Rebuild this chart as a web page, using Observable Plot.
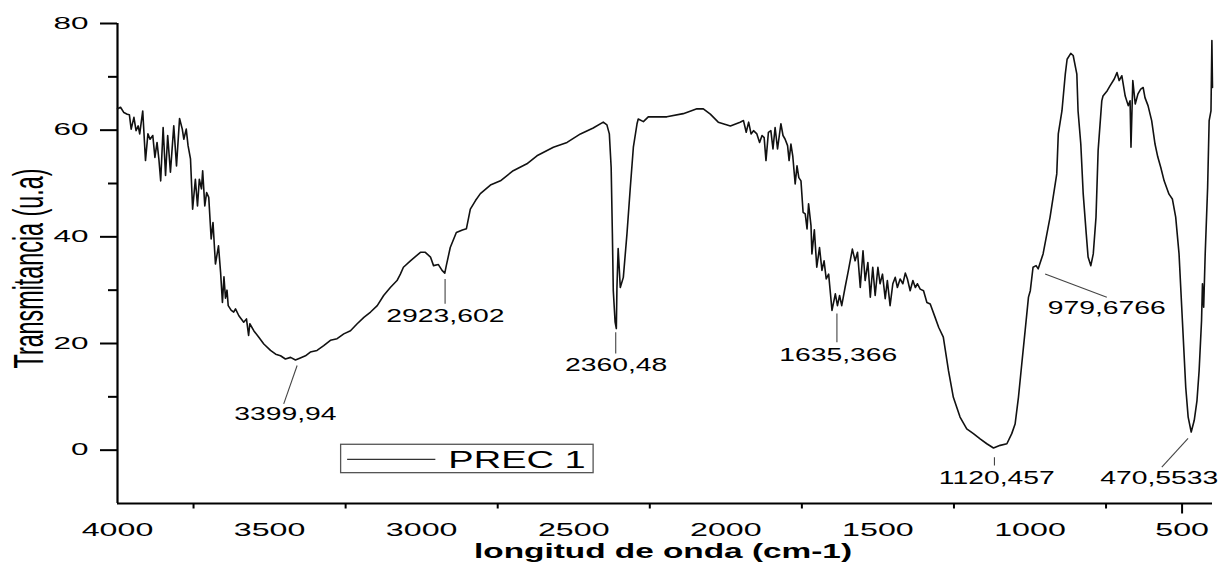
<!DOCTYPE html>
<html>
<head>
<meta charset="utf-8">
<script src="https://cdn.jsdelivr.net/npm/d3@7"></script>
<script src="https://cdn.jsdelivr.net/npm/@observablehq/plot@0.6"></script>
<style>
  html, body { margin: 0; padding: 0; background: #fff; }
</style>
</head>
<body>
<script>
// Wavenumber (cm-1) and transmittance (u.a)
const wavenumber = [
  4000,3990,3979,3968,3961,3955,3946,3939,3932,3927,3917,3908,3900,3893,3884,3877,3870,3864,3858,3850,
  3842,3835,3826,3815,3806,3796,3787,3782,3774,3768,3760,3753,3744,3737,3731,3724,3720,3713,3707,3700,
  3692,3686,3678,3668,3661,3655,3650,3645,3640,3636,3626,3618,3612,3601,3585,3576,3569,3565,3552,3536,
  3519,3497,3480,3464,3448,3431,3415,3399,3382,3366,3344,3322,3300,3278,3256,3234,3212,3190,3168,3146,
  3125,3103,3081,3070,3060,3037,3004,2988,2971,2961,2945,2933,2924,2919,2906,2886,2866,2853,2840,2823,
  2807,2774,2741,2699,2654,2621,2567,2522,2478,2436,2403,2391,2383,2377,2373,2370,2364,2360,2358,2354,
  2347,2337,2325,2314,2304,2292,2288,2271,2255,2194,2140,2095,2074,2051,2025,1985,1953,1942,1933,1925,
  1917,1909,1898,1889,1881,1874,1868,1860,1852,1845,1838,1830,1819,1812,1805,1797,1792,1786,1780,1772,
  1766,1760,1753,1746,1739,1733,1728,1720,1717,1709,1701,1692,1684,1677,1670,1662,1651,1640,1633,1626,
  1619,1608,1597,1584,1575,1567,1558,1549,1542,1533,1525,1517,1509,1500,1493,1485,1476,1469,1460,1451,
  1443,1436,1427,1418,1410,1403,1394,1385,1377,1370,1361,1350,1339,1328,1312,1300,1285,1268,1252,1230,
  1208,1186,1164,1142,1120,1098,1076,1060,1049,1038,1027,1016,1005,999,990,980,973,957,934,912,
  907,895,884,878,866,858,846,842,833,825,815,809,800,792,783,776,764,760,746,737,
  723,714,707,698,687,677,671,668,662,654,645,636,628,622,612,600,589,580,570,559,
  543,532,521,510,499,488,480,470,460,451,444,436,433,429,424,416,411,405,402,400
];
const transmittance = [
  64.0,64.3,63.3,63.0,62.9,60.2,62.4,59.9,60.8,59.3,63.6,54.3,59.3,58.3,59.0,54.9,57.7,54.6,50.5,60.5,
  51.5,59.0,52.1,60.8,53.3,62.2,60.2,58.3,60.2,57.1,54.6,45.2,50.8,45.8,50.8,49.0,52.4,45.8,48.3,47.4,
  39.6,42.7,34.9,38.3,33.3,27.7,32.5,28.5,30.0,27.1,26.2,25.9,26.5,25.2,24.0,24.6,21.5,23.7,22.4,21.2,
  19.9,18.7,18.0,17.7,17.1,17.4,16.9,17.3,17.7,18.4,18.7,19.6,20.6,20.9,21.8,22.4,23.7,24.9,25.9,27.1,
  29.0,30.5,31.8,33.0,34.3,35.5,37.1,37.1,36.2,34.6,34.8,33.7,33.2,34.6,38.0,40.8,41.3,41.5,45.2,46.8,
  48.1,49.7,50.5,52.4,53.7,55.2,56.8,57.7,59.3,60.4,61.5,61.0,59.3,53.0,40.6,29.9,24.0,22.8,30.5,37.8,
  30.5,32.4,40.6,49.3,56.8,61.2,62.1,61.6,62.5,62.5,63.1,64.0,64.0,63.0,61.5,60.8,61.5,61.8,59.6,61.5,
  59.3,59.9,59.3,57.7,59.0,58.6,54.3,59.6,59.9,56.5,60.5,56.5,61.2,59.0,58.3,57.1,54.3,57.4,55.2,49.9,
  53.3,51.1,50.5,44.6,44.3,41.5,46.2,42.1,36.8,41.3,34.3,38.0,33.7,35.5,32.1,33.0,26.2,29.3,27.1,29.0,
  27.1,30.5,33.7,37.7,35.5,37.1,30.5,37.4,31.8,35.2,28.7,34.3,29.0,34.3,31.2,33.0,28.4,31.8,27.1,31.2,
  32.4,30.5,32.1,31.2,33.2,32.1,29.9,31.8,30.5,31.2,30.2,29.9,27.7,27.4,24.9,23.0,21.2,14.9,9.9,6.2,
  4.0,3.1,2.1,1.2,0.4,0.9,1.2,3.1,4.9,9.9,16.2,22.4,28.7,29.9,34.3,34.6,34.0,36.8,43.7,51.8,
  59.3,63.6,70.5,73.3,74.4,74.0,70.5,63.6,57.4,48.0,40.5,36.2,34.6,36.8,43.7,56.2,65.5,66.4,67.4,68.3,
  69.6,70.8,69.3,70.2,66.4,64.6,65.5,56.8,69.3,64.9,66.8,67.7,68.0,66.1,64.6,61.8,57.4,55.0,53.0,50.5,
  48.0,47.1,43.7,36.8,24.3,11.8,6.2,3.4,5.6,9.3,14.9,24.3,31.2,26.8,36.8,49.3,61.8,63.6,76.8,68.0
];

// Tick values and labels
const xTickLabels = [4000, 3500, 3000, 2500, 2000, 1500, 1000, 500];
const xMinorTicks = [3750, 3250, 2750, 2250, 1750, 1250, 750];
const xLongTicks = [500];
const yTickLabels = [0, 20, 40, 60, 80];
const yMinorTicks = [10, 30, 50, 70];

// Peak annotations (labels and leader lines, in data units)
const peakLabels = ["3399,94", "2923,602", "2360,48", "1635,366", "1120,457", "979,6766", "470,5533"];
const peakLabelX = [3447.9, 2922, 2360.7, 1630.5, 1109, 747.5, 575];
const peakLabelY = [6.63, 25.18, 15.9, 17.87, -5.36, 26.62, -5.36];
const leaderX1 = [3409.4, 2923, 2362, 1634.8, 1116.9, 950.2, 480.3];
const leaderY1 = [15.87, 32.1, 22.1, 25.61, -1.31, 33.05, 2.19];
const leaderX2 = [3453.5, 2923, 2362, 1634.8, 1116.9, 747.5, 566.7];
const leaderY2 = [8.69, 27.43, 18.12, 20.23, -2.87, 28.66, -3.18];

const seriesName = "PREC 1";
const xTitle = "longitud de onda (cm-1)";
const yTitle = "Transmitancia (u.a)";

const spectrum = wavenumber.map((w, i) => ({w, t: transmittance[i]}));
const annots = peakLabels.map((s, i) => ({s, x: peakLabelX[i], y: peakLabelY[i]}));
const leaders = peakLabels.map((s, i) => ({x1: leaderX1[i], y1: leaderY1[i], x2: leaderX2[i], y2: leaderY2[i]}));
const legendBox = [{x1: 3264.8, x2: 2434.7, y1: 1.01, y2: -4.31}];
const legendSwatch = [{x1: 3245.1, x2: 2955, y1: -1.74, y2: -1.74}];
const legendText = [{s: seriesName, x: 2912.2, y: -1.89}];

const fmt = d => String(d);

const svg = Plot.plot({
  width: 1222,
  height: 571,
  marginLeft: 117,
  marginRight: 10,
  marginTop: 23,
  marginBottom: 68,
  style: {fontFamily: "'Liberation Sans', Arial, sans-serif", color: "#000", background: "#fff"},
  x: {domain: [4000, 400]},
  y: {domain: [-10, 80]},
  marks: [
    Plot.axisY({ticks: yTickLabels, tickSize: 17, tickPadding: 12, fontSize: 16.3, tickFormat: fmt, strokeWidth: 2, label: null}),
    Plot.axisY({ticks: yMinorTicks, tickSize: 9, tickFormat: () => "", strokeWidth: 2, label: null}),
    Plot.axisX({ticks: xMinorTicks, tickSize: 5.5, tickFormat: () => "", strokeWidth: 2, label: null}),
    Plot.axisX({ticks: xLongTicks, tickSize: 10.5, tickFormat: () => "", strokeWidth: 2, label: null}),
    Plot.axisX({ticks: xTickLabels, tickSize: 0, tickPadding: 19, fontSize: 18.6, tickFormat: fmt, label: null}),
    Plot.ruleX([4000], {stroke: "#000", strokeWidth: 2.2}),
    Plot.ruleY([-10], {stroke: "#000", strokeWidth: 2.2}),
    Plot.line(spectrum, {x: "w", y: "t", stroke: "#111", strokeWidth: 1.6}),
    Plot.link(leaders, {x1: "x1", y1: "y1", x2: "x2", y2: "y2", stroke: "#444", strokeWidth: 1.1}),
    Plot.text(annots, {x: "x", y: "y", text: "s", fontSize: 17.7, fill: "#000"}),
    Plot.rect(legendBox, {x1: "x1", x2: "x2", y1: "y1", y2: "y2", fill: "none", stroke: "#555", strokeWidth: 1.3}),
    Plot.link(legendSwatch, {x1: "x1", y1: "y1", x2: "x2", y2: "y2", stroke: "#333", strokeWidth: 1.3}),
    Plot.text(legendText, {x: "x", y: "y", text: "s", fontSize: 23.3, textAnchor: "start", fill: "#000"}),
    Plot.text([xTitle], {frameAnchor: "bottom", dx: -2, dy: 54.5, fontSize: 20, fontWeight: "bold", fill: "#000"}),
    Plot.text([yTitle], {frameAnchor: "left", rotate: -90, textAnchor: "start", dx: -88.4, dy: 105, fontSize: 42, fill: "#000"})
  ]
});

document.body.append(svg);

// The reference's lettering is horizontally stretched; reproduce via textLength
const stretch = {"16.3px": 1.93, "18.6px": 1.73, "17.7px": 1.6, "23.3px": 1.63};
svg.querySelectorAll("text").forEach(t => {
  const len = t.getComputedTextLength();
  if (!len) return;
  const fs = getComputedStyle(t).fontSize;
  let target = null;
  if (t.textContent === yTitle) target = 200;
  else if (t.textContent === xTitle) target = 378;
  else if (stretch[fs]) target = len * stretch[fs];
  if (target) {
    t.setAttribute("textLength", target.toFixed(1));
    t.setAttribute("lengthAdjust", "spacingAndGlyphs");
  }
});
</script>
</body>
</html>
